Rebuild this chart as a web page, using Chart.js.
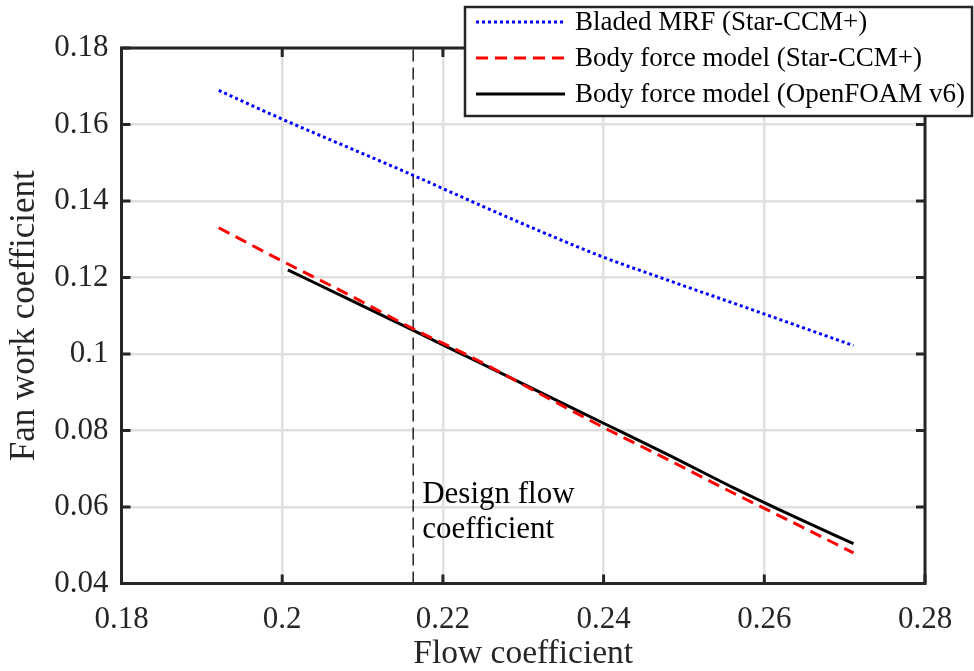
<!DOCTYPE html>
<html>
<head>
<meta charset="utf-8">
<script src="https://cdn.jsdelivr.net/npm/chart.js@4.4.0/dist/chart.umd.min.js"></script>
<style>
html,body{margin:0;padding:0;background:#fff;}
#wrap{width:974px;height:671px;}
</style>
</head>
<body>
<div id="wrap"><canvas id="c" width="974" height="671"></canvas></div>
<script>
// ---- data ----
const flowBlue = [0.1921, 0.200, 0.208, 0.216, 0.224, 0.232, 0.240, 0.248, 0.256, 0.264, 0.2711];
const fanBlue  = [0.1689, 0.1614, 0.1542, 0.1470, 0.1395, 0.1322, 0.1253, 0.1193, 0.1134, 0.1075, 0.1022];
const flowRed  = [0.1921, 0.200, 0.208, 0.216, 0.224, 0.232, 0.240, 0.248, 0.256, 0.264, 0.2711];
const fanRed   = [0.1330, 0.1243, 0.1158, 0.1069, 0.0987, 0.0897, 0.0808, 0.0724, 0.0638, 0.0555, 0.0480];
const flowBlack = [0.2007, 0.208, 0.216, 0.224, 0.232, 0.240, 0.248, 0.256, 0.264, 0.2711];
const fanBlack  = [0.1220, 0.1146, 0.1065, 0.0983, 0.0901, 0.0819, 0.0737, 0.0652, 0.0572, 0.0504];
const designFlow = [0.2163, 0.2163];
const designFan  = [0.04, 0.18];
const seriesNames = ["Bladed MRF (Star-CCM+)", "Body force model (Star-CCM+)", "Body force model (OpenFOAM v6)"];
const xTickValues = [0.18, 0.20, 0.22, 0.24, 0.26, 0.28];
const xTickLabels = ["0.18", "0.2", "0.22", "0.24", "0.26", "0.28"];
const yTickValues = [0.04, 0.06, 0.08, 0.10, 0.12, 0.14, 0.16, 0.18];
const yTickLabels = ["0.04", "0.06", "0.08", "0.1", "0.12", "0.14", "0.16", "0.18"];
const annotationLines = ["Design flow", "coefficient"];

const pts = (xs, ys) => xs.map((x, i) => ({x: x, y: ys[i]}));
const SERIF = "'Liberation Serif', 'Times New Roman', serif";
const AX = '#262626';

function labelFor(values, labels, v) {
  for (let i = 0; i < values.length; i++) if (Math.abs(values[i] - v) < 1e-9) return labels[i];
  return '';
}

const framePlugin = {
  id: 'frame',
  afterDatasetsDraw(chart) {
    const ctx = chart.ctx, a = chart.chartArea;
    const xs = chart.scales.x, ys = chart.scales.y;
    ctx.save();
    // annotation text
    ctx.fillStyle = '#000';
    ctx.font = '31px ' + SERIF;
    ctx.textAlign = 'left';
    ctx.textBaseline = 'alphabetic';
    const ax = xs.getPixelForValue(designFlow[0]) + 9;
    ctx.fillText(annotationLines[0], ax, 503);
    ctx.fillText(annotationLines[1], ax, 538);
    // inward ticks
    ctx.strokeStyle = AX;
    ctx.lineWidth = 3;
    ctx.beginPath();
    xTickValues.forEach(v => {
      const p = xs.getPixelForValue(v);
      ctx.moveTo(p, a.bottom); ctx.lineTo(p, a.bottom - 9);
      ctx.moveTo(p, a.top); ctx.lineTo(p, a.top + 9);
    });
    yTickValues.forEach(v => {
      const p = ys.getPixelForValue(v);
      ctx.moveTo(a.left, p); ctx.lineTo(a.left + 9, p);
      ctx.moveTo(a.right, p); ctx.lineTo(a.right - 9, p);
    });
    ctx.stroke();
    // box
    ctx.lineWidth = 3;
    ctx.strokeRect(a.left, a.top, a.right - a.left, a.bottom - a.top);
    // legend
    const lx = 465, ly = 7, lw = 507, lh = 109;
    ctx.fillStyle = '#fff';
    ctx.fillRect(lx, ly, lw, lh);
    ctx.lineWidth = 2.5;
    ctx.strokeStyle = AX;
    ctx.strokeRect(lx, ly, lw, lh);
    const rows = [22, 58, 94];
    for (let i = 0; i < 3; i++) {
      const ds = chart.data.datasets[i];
      ctx.beginPath();
      ctx.strokeStyle = ds.borderColor;
      ctx.lineWidth = ds.borderWidth;
      ctx.setLineDash(ds.borderDash || []);
      ctx.moveTo(476, rows[i]); ctx.lineTo(565, rows[i]);
      ctx.stroke();
      ctx.setLineDash([]);
      ctx.fillStyle = '#000';
      ctx.font = '27px ' + SERIF;
      ctx.textAlign = 'left';
      ctx.textBaseline = 'middle';
      ctx.fillText(seriesNames[i], 575, rows[i] + 1);
    }
    ctx.restore();
  }
};

new Chart(document.getElementById('c'), {
  type: 'line',
  data: {
    datasets: [
      {label: seriesNames[0], data: pts(flowBlue, fanBlue), borderColor: '#0000ff', borderWidth: 3, borderDash: [3, 3], pointRadius: 0, fill: false, cubicInterpolationMode: 'monotone'},
      {label: seriesNames[1], data: pts(flowRed, fanRed), borderColor: '#ff0000', borderWidth: 3, borderDash: [12, 7], pointRadius: 0, fill: false, cubicInterpolationMode: 'monotone'},
      {label: seriesNames[2], data: pts(flowBlack, fanBlack), borderColor: '#000000', borderWidth: 3, pointRadius: 0, fill: false, cubicInterpolationMode: 'monotone'},
      {label: 'design', data: pts(designFlow, designFan), borderColor: '#000000', borderWidth: 1.3, borderDash: [12, 6], pointRadius: 0, fill: false}
    ]
  },
  options: {
    responsive: false,
    devicePixelRatio: 1,
    animation: false,
    layout: {padding: {left: 0, top: 48, right: 49, bottom: 0}},
    plugins: {legend: {display: false}, tooltip: {enabled: false}},
    scales: {
      x: {
        type: 'linear', min: 0.18, max: 0.28,
        afterBuildTicks(s) { s.ticks = xTickValues.map(v => ({value: v})); },
        afterFit(s) { s.height = 87.5; },
        grid: {color: '#e0e0e0', lineWidth: 2.5, drawTicks: false},
        border: {display: false},
        ticks: {padding: 18, color: AX, font: {family: SERIF, size: 31}, maxRotation: 0,
          callback: v => labelFor(xTickValues, xTickLabels, v)},
        title: {display: true, text: 'Flow coefficient', color: AX, font: {family: SERIF, size: 33.5, lineHeight: 1}, padding: {top: 0, bottom: 0}}
      },
      y: {
        type: 'linear', min: 0.04, max: 0.18,
        afterBuildTicks(s) { s.ticks = yTickValues.map(v => ({value: v})); },
        afterFit(s) { s.width = 121.5; },
        grid: {color: '#e0e0e0', lineWidth: 2.5, drawTicks: false},
        border: {display: false},
        ticks: {padding: 13, color: AX, font: {family: SERIF, size: 31},
          callback: v => labelFor(yTickValues, yTickLabels, v)},
        title: {display: true, text: 'Fan work coefficient', color: AX, font: {family: SERIF, size: 35, lineHeight: 1}, padding: {top: 7, bottom: 0}}
      }
    }
  },
  plugins: [framePlugin]
});
</script>
</body>
</html>
